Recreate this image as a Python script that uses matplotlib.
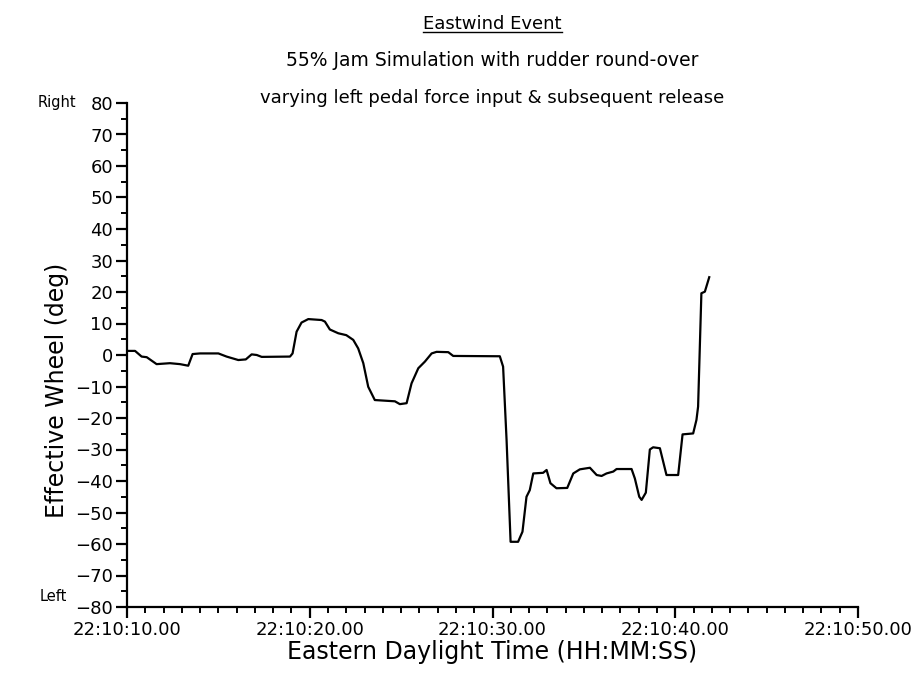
import matplotlib
matplotlib.use("Agg")
import matplotlib.pyplot as plt
from matplotlib.ticker import MultipleLocator, FixedLocator
from matplotlib.lines import Line2D

# seconds after 22:10:00 and effective wheel angle (deg)
t_sec = [10.0, 10.44, 10.8, 11.08, 11.62, 12.35, 12.9, 13.35, 13.59, 14.0,
         15.0, 15.45, 16.09, 16.5, 16.82, 17.1, 17.37, 18.92, 19.06, 19.28,
         19.55, 19.92, 20.65, 20.83, 21.1, 21.56, 22.0, 22.38, 22.65, 22.93,
         23.2, 23.56, 24.66, 24.93, 25.3, 25.57, 25.94, 26.3, 26.67, 26.94,
         27.58, 27.85, 30.4, 30.58, 30.77, 30.99, 31.4, 31.64, 31.86, 32.04,
         32.23, 32.77, 32.96, 33.17, 33.5, 34.09, 34.42, 34.78, 35.33, 35.7,
         35.97, 36.24, 36.61, 36.79, 37.61, 37.79, 38.03, 38.16, 38.39, 38.61,
         38.79, 39.16, 39.52, 40.16, 40.4, 40.98, 41.16, 41.25, 41.43, 41.62,
         41.86]
wheel = [1.3, 1.3, -0.5, -0.7, -2.9, -2.6, -2.9, -3.4, 0.3, 0.5,
         0.5, -0.5, -1.6, -1.4, 0.2, 0.0, -0.6, -0.5, 0.5, 7.4,
         10.3, 11.4, 11.1, 10.6, 8.1, 6.9, 6.3, 4.8, 2.1, -2.6,
         -10.1, -14.3, -14.7, -15.6, -15.3, -9.0, -4.2, -2.1, 0.5, 1.0,
         0.9, -0.3, -0.4, -3.7, -27.0, -59.3, -59.3, -56.1, -45.0, -42.9,
         -37.6, -37.4, -36.5, -40.7, -42.3, -42.2, -37.6, -36.3, -35.8, -38.1,
         -38.4, -37.6, -37.0, -36.2, -36.2, -39.2, -45.0, -46.0, -43.7, -30.0,
         -29.3, -29.6, -38.1, -38.1, -25.2, -24.9, -20.6, -16.4, 19.6, 20.1,
         24.7]

x_ticks = [10, 20, 30, 40, 50]
x_labels = ["22:10:%02d.00" % s for s in x_ticks]
y_ticks = list(range(-80, 81, 10))

fig = plt.figure(figsize=(9.16, 6.78), dpi=100)
ax = fig.add_axes([127 / 916, 1 - 607 / 678, (858 - 127) / 916, (607 - 103) / 678])

ax.plot(t_sec, wheel, color="black", linewidth=1.6)

ax.set_xlim(10, 50)
ax.set_ylim(-80, 80)
ax.xaxis.set_major_locator(FixedLocator(x_ticks))
ax.set_xticklabels(x_labels)
ax.xaxis.set_minor_locator(MultipleLocator(1))
ax.yaxis.set_major_locator(FixedLocator(y_ticks))
ax.yaxis.set_minor_locator(MultipleLocator(5))

for side in ["top", "right"]:
    ax.spines[side].set_visible(False)
for side in ["left", "bottom"]:
    ax.spines[side].set_linewidth(1.6)

ax.tick_params(which="major", direction="out", length=8, width=1.6,
               labelsize=13, pad=2)
ax.tick_params(which="minor", direction="out", length=4, width=1.4)

ax.set_xlabel("Eastern Daylight Time (HH:MM:SS)", fontsize=17, labelpad=1)
ax.set_ylabel("Effective Wheel (deg)", fontsize=17)
ax.yaxis.set_label_coords(-0.08, 0.43)

# side words
ax.text(-0.096, 1.0, "Right", transform=ax.transAxes, fontsize=10.5,
        ha="center", va="center")
ax.text(-0.101, 0.02, "Left", transform=ax.transAxes, fontsize=10.5,
        ha="center", va="center")

# titles
cx = (127 + 858) / 2 / 916
title = fig.text(cx, 1 - 24 / 678, "Eastwind Event", fontsize=13,
                 ha="center", va="center")
fig.text(cx, 1 - 61 / 678, "55% Jam Simulation with rudder round-over",
         fontsize=13.5, ha="center", va="center")
fig.text(cx, 1 - 98 / 678, "varying left pedal force input & subsequent release",
         fontsize=13, ha="center", va="center")

# underline the first title line
fig.canvas.draw()
bb = title.get_window_extent().transformed(fig.transFigure.inverted())
fig.add_artist(Line2D([bb.x0, bb.x1], [bb.y0 + 0.002, bb.y0 + 0.002],
                      color="black", linewidth=1.0))

fig.savefig("out.png", dpi=100)
